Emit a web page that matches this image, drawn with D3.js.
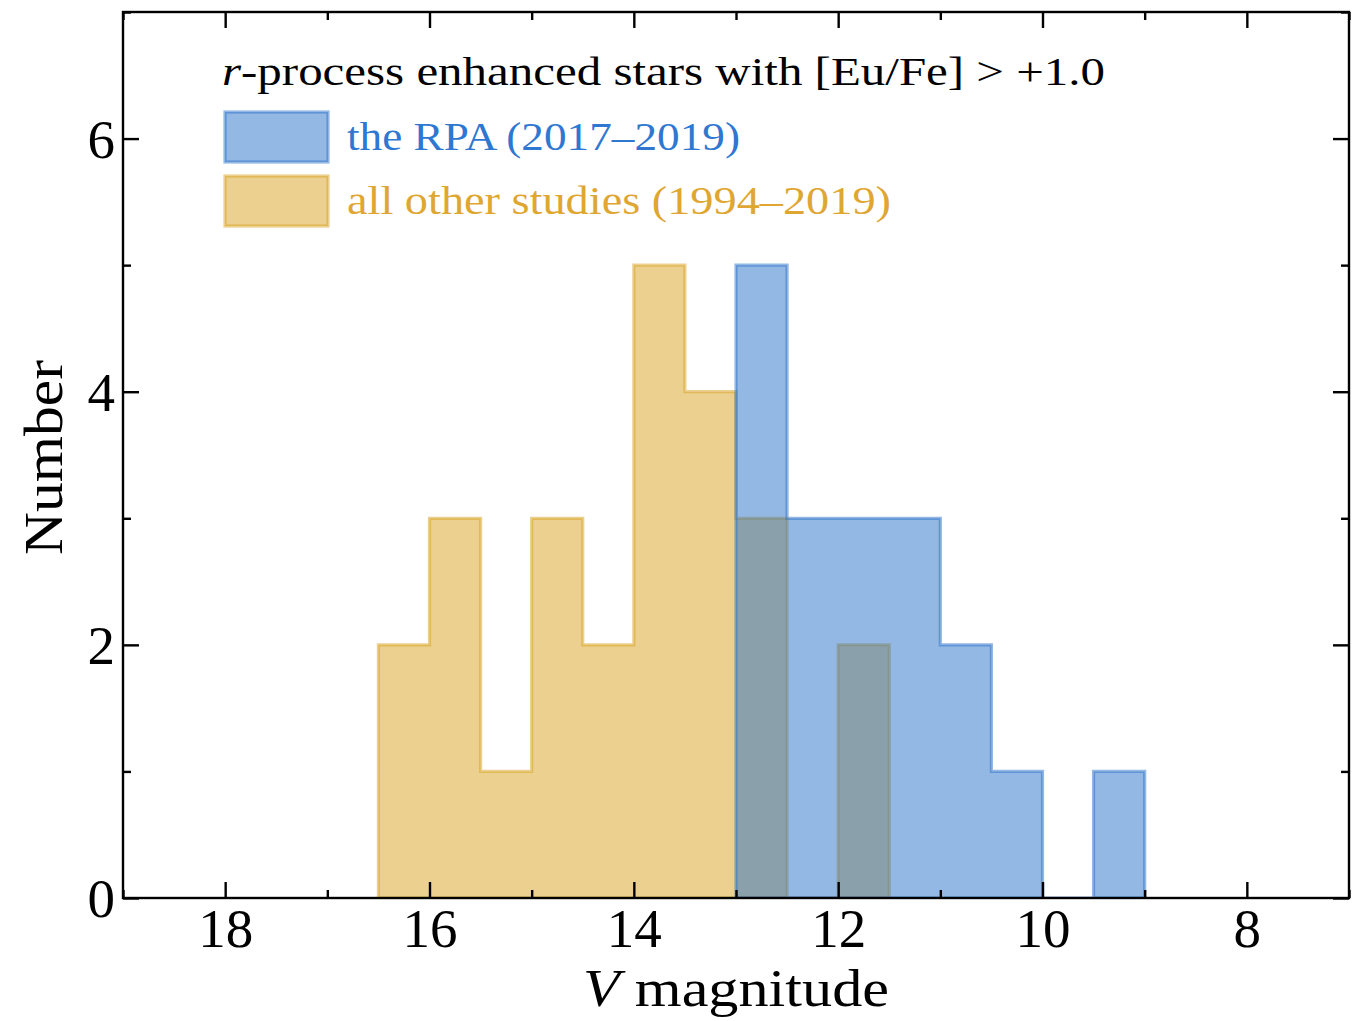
<!DOCTYPE html>
<html>
<head>
<meta charset="utf-8">
<script src="https://cdn.jsdelivr.net/npm/d3@7"></script>
<style>
  html, body { margin: 0; padding: 0; background: #fff; }
  svg text { font-family: "Liberation Serif", "DejaVu Serif", serif; }
</style>
</head>
<body>
<svg id="chart" width="1361" height="1021"></svg>
<script>
// Histogram bins of V magnitude (bin width 0.5 mag), counts of r-process enhanced stars
const binEdgesOther = [16.5, 16.0, 15.5, 15.0, 14.5, 14.0, 13.5, 13.0, 12.5, 12.0, 11.5];
const countsOther   = [2, 3, 1, 3, 2, 5, 4, 3, 0, 2];

const binEdgesRPA = [13.0, 12.5, 12.0, 11.5, 11.0, 10.5, 10.0, 9.5, 9.0];
const countsRPA   = [5, 3, 3, 3, 2, 1, 0, 1];

const xMajorTicks = [18, 16, 14, 12, 10, 8];
const xMinorTicks = [19, 17, 15, 13, 11, 9, 7];
const yMajorTicks = [0, 2, 4, 6];
const yMinorTicks = [1, 3, 5, 7];

const legendTitle = ["r", "-process enhanced stars with [Eu/Fe] > +1.0"];
const seriesLabels = ["the RPA (2017\u20132019)", "all other studies (1994\u20132019)"];

const blueBase = "#2971c9", blueText = "#2e78d2";
const goldBase = "#d7a11f", goldText = "#dfa732";

const svg = d3.select("#chart");
const plot = { left: 123, right: 1349, top: 12, bottom: 898 };

const x = d3.scaleLinear().domain([19, 7]).range([plot.left, plot.right]);
const y = d3.scaleLinear().domain([0, 7]).range([plot.bottom, plot.top]);

// step outline of a histogram: closed polygon down to the baseline
function stepPoints(edges, counts) {
  const pts = [[edges[0], 0]];
  counts.forEach((c, i) => {
    pts.push([edges[i], c]);
    pts.push([edges[i + 1], c]);
  });
  pts.push([edges[edges.length - 1], 0]);
  return pts;
}
const line = d3.line().x(d => x(d[0])).y(d => y(d[1]));

svg.append("clipPath").attr("id", "plotclip")
  .append("rect").attr("x", plot.left).attr("y", plot.top)
  .attr("width", plot.right - plot.left).attr("height", plot.bottom - plot.top);

const hist = svg.append("g").attr("clip-path", "url(#plotclip)");
[[binEdgesOther, countsOther, goldBase], [binEdgesRPA, countsRPA, blueBase]].forEach(([e, c, col]) => {
  hist.append("path")
    .attr("d", line(stepPoints(e, c)) + "Z")
    .attr("fill", col).attr("fill-opacity", 0.5)
    .attr("stroke", col).attr("stroke-opacity", 0.5)
    .attr("stroke-width", 3.2).attr("stroke-linejoin", "miter");
});

// axes: inward ticks on all four sides
const axes = svg.append("g");
function addTicks(axisGen, transform, ticks, size, labels) {
  const g = axes.append("g").attr("transform", transform)
    .call(axisGen.tickValues(ticks).tickSizeInner(-size).tickSizeOuter(0)
      .tickFormat(labels ? d3.format("d") : ""));
  g.select(".domain").remove();
  g.selectAll(".tick line").attr("stroke", "#000").attr("stroke-width", 2.4);
  return g;
}
const bx = addTicks(d3.axisBottom(x), `translate(0,${plot.bottom})`, xMajorTicks, 16, true);
addTicks(d3.axisBottom(x), `translate(0,${plot.bottom})`, xMinorTicks, 8, false);
addTicks(d3.axisTop(x), `translate(0,${plot.top})`, xMajorTicks, 16, false);
addTicks(d3.axisTop(x), `translate(0,${plot.top})`, xMinorTicks, 8, false);
const ly = addTicks(d3.axisLeft(y), `translate(${plot.left},0)`, yMajorTicks, 16, true);
addTicks(d3.axisLeft(y), `translate(${plot.left},0)`, yMinorTicks, 8, false);
addTicks(d3.axisRight(y), `translate(${plot.right},0)`, yMajorTicks, 16, false);
addTicks(d3.axisRight(y), `translate(${plot.right},0)`, yMinorTicks, 8, false);

bx.selectAll(".tick text").attr("y", 0).attr("dy", "0")
  .attr("transform", "translate(0,49)")
  .style("font-size", "55px").attr("fill", "#000")
  .style("font-family", '"Liberation Serif", serif');
ly.selectAll(".tick text").attr("x", -8).attr("dy", "0.34em")
  .style("font-size", "55px").attr("fill", "#000")
  .style("font-family", '"Liberation Serif", serif');

axes.append("rect")
  .attr("x", plot.left).attr("y", plot.top)
  .attr("width", plot.right - plot.left).attr("height", plot.bottom - plot.top)
  .attr("fill", "none").attr("stroke", "#000").attr("stroke-width", 2.4);

// axis titles (stretched slightly to the width of the book-style serif)
const xt = svg.append("text").attr("x", 583).attr("y", 1006)
  .attr("textLength", 306).attr("lengthAdjust", "spacingAndGlyphs")
  .style("font-size", "53px").attr("fill", "#000");
xt.append("tspan").style("font-style", "italic").text("V");
xt.append("tspan").text(" magnitude");

svg.append("text")
  .attr("transform", "translate(62,555) rotate(-90)")
  .attr("textLength", 195).attr("lengthAdjust", "spacingAndGlyphs")
  .style("font-size", "54px").attr("fill", "#000")
  .text("Number");

// legend
const lt = svg.append("text").attr("x", 222).attr("y", 85)
  .attr("textLength", 883).attr("lengthAdjust", "spacingAndGlyphs")
  .style("font-size", "41px").attr("fill", "#000");
lt.append("tspan").style("font-style", "italic").text(legendTitle[0]);
lt.append("tspan").text(legendTitle[1]);

const legendRows = [
  { label: seriesLabels[0], base: blueBase, text: blueText, y: 112, w: 393 },
  { label: seriesLabels[1], base: goldBase, text: goldText, y: 176, w: 544 }
];
legendRows.forEach(r => {
  svg.append("rect").attr("x", 225).attr("y", r.y).attr("width", 103).attr("height", 50)
    .attr("fill", r.base).attr("fill-opacity", 0.5)
    .attr("stroke", r.base).attr("stroke-opacity", 0.5).attr("stroke-width", 3.2);
  svg.append("text").attr("x", 347).attr("y", r.y + 38)
    .attr("textLength", r.w).attr("lengthAdjust", "spacingAndGlyphs")
    .style("font-size", "41px").attr("fill", r.text).text(r.label);
});
</script>
</body>
</html>
